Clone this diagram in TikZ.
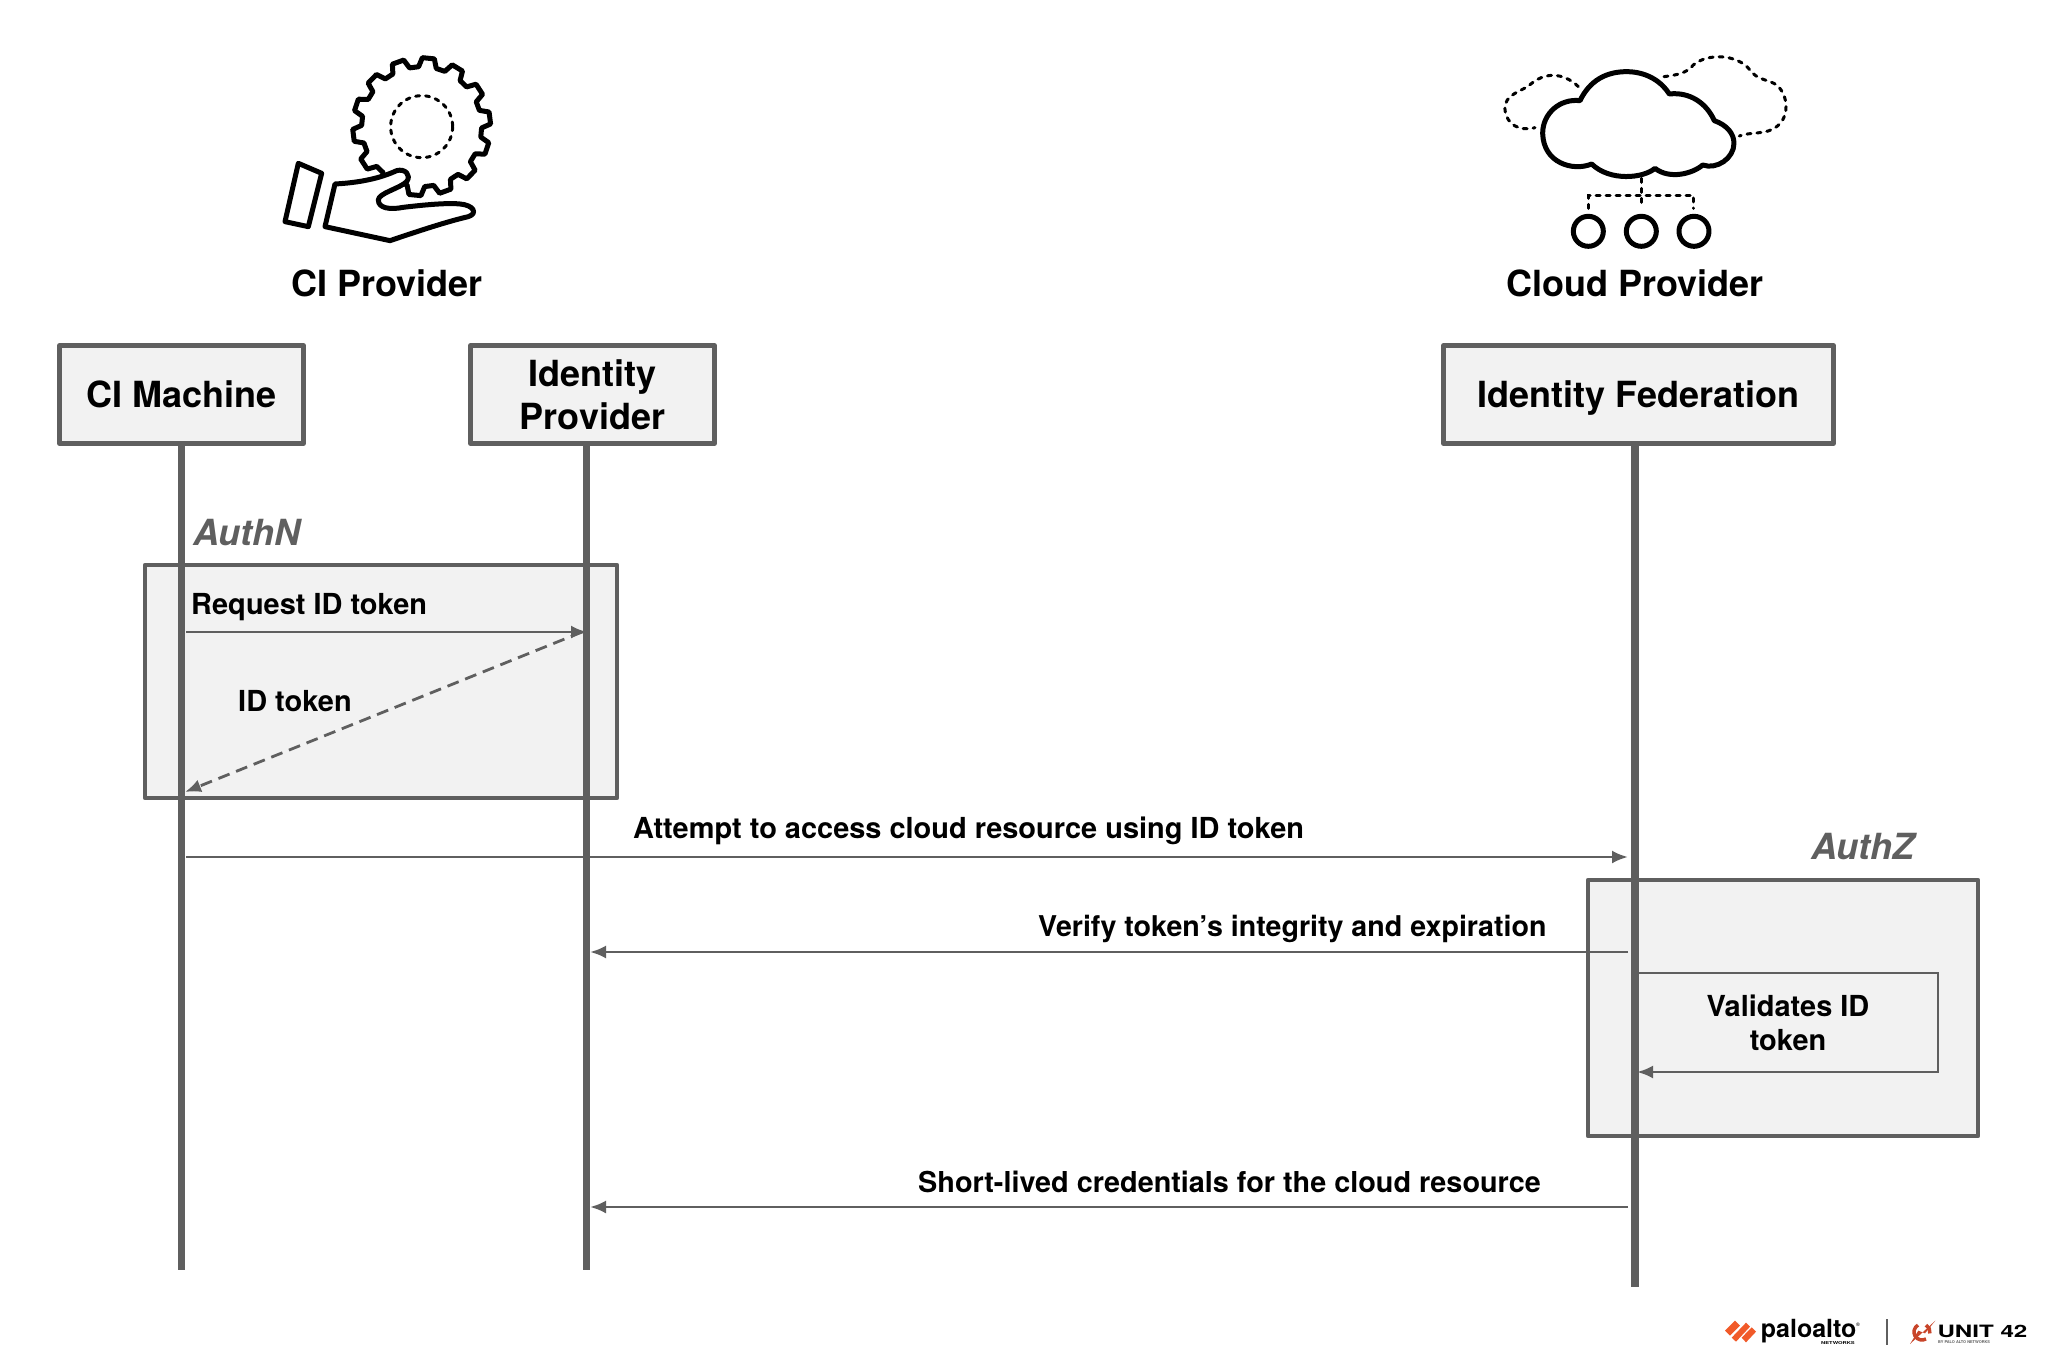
\documentclass[tikz,border=0pt]{standalone}
\usepackage{fontspec}
\setmainfont{TeX Gyre Heros}
\usetikzlibrary{arrows.meta}
\definecolor{linegray}{HTML}{5F5F5F}
\definecolor{boxfill}{HTML}{F2F2F2}
\definecolor{paloorange}{HTML}{F15A29}
\definecolor{unitred}{HTML}{C8452A}
\newcommand{\capcentered}[1]{\smash{\raisebox{-13pt}{#1}}}
\tikzset{
  actorbox/.style={draw=linegray,fill=boxfill,line width=4.8pt,line join=round,minimum height=98pt,align=center,font=\bfseries\fontsize{36}{43}\selectfont,inner sep=0pt},
  titlelabel/.style={font=\bfseries\fontsize{36}{40}\selectfont,text=black},
  msglabel/.style={font=\bfseries\fontsize{28.95}{34}\selectfont,text=black,inner sep=0pt,align=center},
  phaselabel/.style={font=\bfseries\itshape\fontsize{36}{40}\selectfont,text=linegray,inner sep=0pt},
  lifeline/.style={draw=linegray,line width=7.6pt},
  phasebox/.style={draw=linegray,fill=boxfill,line width=4.8pt,line join=round,inner sep=0pt},
  msgline/.style={draw=linegray,line width=2.8pt,-{Latex[length=16pt,width=13pt]}},
  dashline/.style={msgline,dash pattern=on 12pt off 7pt},
  iconline/.style={draw=black,fill=white,line width=5pt,line join=round},
  icondash/.style={draw=black,line width=3pt,dash pattern=on 4pt off 6pt,line cap=round},
}
\begin{document}
\begin{tikzpicture}[x=1pt,y=-1pt]
\useasboundingbox (0,0) rectangle (2048,1360);
\fill[white] (0,0) rectangle (2048,1360);

% phase boxes
\node[phasebox,minimum width=472pt,minimum height=233pt] (authn) at (381,681.5) {};
\node[phasebox,minimum width=390pt,minimum height=256pt] (authz) at (1783,1008) {};

% actors
\node[actorbox,minimum width=244pt] (ci) at (181.5,394.5) {\capcentered{CI Machine}};
\node[actorbox,minimum width=244pt] (idp) at (592.5,394.5) {Identity\\Provider};
\node[actorbox,minimum width=390pt] (fed) at (1638.5,394.5) {\capcentered{Identity Federation}};

% lifelines
\coordinate (ciend) at (181.5,1270);
\coordinate (idpstart) at (586.5,444); \coordinate (idpend) at (586.5,1270);
\coordinate (fedstart) at (1635,444); \coordinate (fedend) at (1635,1287);
\draw[lifeline] (ci.south) -- (ciend);
\draw[lifeline] (idpstart) -- (idpend);
\draw[lifeline] (fedstart) -- (fedend);

% message anchors
\coordinate (m1a) at (186,632); \coordinate (m1b) at (587,632);
\coordinate (m2a) at (582,632); \coordinate (m2b) at (185,792);
\coordinate (m3a) at (186,857); \coordinate (m3b) at (1628,857);
\coordinate (m4a) at (1628,952); \coordinate (m4b) at (590,952);
\coordinate (m5a) at (1628,1207); \coordinate (m5b) at (590,1207);
\coordinate (s1) at (1638,973); \coordinate (s2) at (1938,973);
\coordinate (s3) at (1938,1072); \coordinate (s4) at (1637,1072);

\draw[msgline] (m1a) -- (m1b);
\draw[dashline] (m2a) -- (m2b);
\draw[msgline] (m3a) -- (m3b);
\draw[msgline] (m4a) -- (m4b);
\draw[msgline] (m5a) -- (m5b);
\draw[msgline] (s1) -- (s2) -- (s3) -- (s4);

% labels
\node[phaselabel,anchor=west] (authnlab) at (193,533) {AuthN};
\node[phaselabel,anchor=west] (authzlab) at (1811,847) {AuthZ};
\node[msglabel,anchor=west] (l1) at (191,607) {Request ID token};
\node[msglabel,anchor=west] (l2) at (238,701) {ID token};
\node[msglabel,anchor=west] (l3) at (633,831) {Attempt to access cloud resource using ID token};
\node[msglabel,anchor=west,font=\bfseries\fontsize{28.6}{34}\selectfont] (l4) at (1038,929) {Verify token’s integrity and expiration};
\node[msglabel,anchor=west,font=\bfseries\fontsize{28.8}{34}\selectfont] (l5) at (918,1182) {Short-lived credentials for the cloud resource};
\node[msglabel] (l6) at (1788,1023) {Validates ID\\token};
\node[titlelabel] (t1) at (387,283) {CI Provider};
\node[titlelabel] (t2) at (1635,283) {Cloud Provider};

% gear and hand icon
\begin{scope}[shift={(260,30)},x=0.3333pt,y=-0.3333pt]
  \begin{scope}[shift={(485,290)}]
    \draw[iconline] (95.6-5:207)
      \foreach \i in {0,...,13} { -- (95.6+\i*25.714-5:207) -- (95.6+\i*25.714+5:207) -- (95.6+\i*25.714+8.5:180) -- (95.6+\i*25.714+17.2:180) } -- cycle;
    \draw[icondash] (0,0) circle (93);
  \end{scope}
  \draw[iconline] (225,462) .. controls (300,458) and (360,445) .. (410,422) .. controls (435,415) and (455,435) .. (440,455) .. controls (420,475) and (355,490) .. (355,510) .. controls (355,535) and (390,540) .. (430,532) .. controls (490,525) and (560,518) .. (600,522) .. controls (640,525) and (655,550) .. (625,560) .. controls (560,575) and (470,605) .. (390,632) -- (195,590) -- cycle;
  \draw[iconline] (115,400) -- (185,430) -- (145,590) -- (75,575) -- cycle;
\end{scope}

% cloud icon
\begin{scope}[shift={(1480,30)},x=0.3333pt,y=-0.3333pt]
  \draw[icondash] (295,170) .. controls (260,135) and (205,120) .. (155,160) .. controls (130,185) and (70,190) .. (75,240) .. controls (80,285) and (120,305) .. (165,293);
  \draw[icondash] (552,140) .. controls (590,135) and (620,130) .. (640,105) .. controls (680,70) and (770,70) .. (810,120) .. controls (830,150) and (870,150) .. (890,165) .. controls (925,195) and (930,260) .. (890,290) .. controls (860,315) and (810,305) .. (778,318);
  \draw[iconline] (300,212) .. controls (330,150) and (380,125) .. (440,125) .. controls (500,125) and (545,155) .. (568,192) .. controls (630,185) and (680,220) .. (703,272) .. controls (740,285) and (762,310) .. (762,340) .. controls (762,385) and (710,420) .. (668,405) .. controls (640,430) and (570,450) .. (525,415) .. controls (490,445) and (390,455) .. (335,402) .. controls (280,425) and (190,400) .. (188,310) .. controls (188,250) and (240,205) .. (300,212) -- cycle;
  \draw[icondash] (484,445) -- (484,535);
  \draw[icondash] (325,535) -- (325,498) -- (642,498) -- (642,535);
  \draw[iconline] (325,604) circle (45);
  \draw[iconline] (484,604) circle (45);
  \draw[iconline] (642,604) circle (45);
\end{scope}

% logos
\begin{scope}[shift={(1700,1290)},x=0.3333pt,y=-0.3333pt]
  \fill[paloorange] (75,122) -- (105,92) -- (120,107) -- (90,137) -- cycle;
  \fill[paloorange] (95,143) -- (138,98) -- (150,110) -- (108,155) -- cycle;
  \fill[paloorange] (125,143) -- (155,112) -- (168,125) -- (138,157) -- cycle;
  \node[anchor=west,inner sep=0pt,font=\bfseries\fontsize{25}{25}\selectfont] (pa) at (182,122) {paloalto};
  \node[anchor=west,inner sep=0pt,font=\fontsize{5}{5}\selectfont] (reg) at (468,105) {®};
  \node[anchor=east,inner sep=0pt,font=\bfseries\fontsize{4}{4}\selectfont] (net) at (465,158) {\scalebox{1.45}[1]{NETWORKS}};
  \fill[linegray] (558,88) rectangle (563,165);
  \draw[unitred,line width=3.5pt] (666,126) ++(60:24) arc[start angle=60,end angle=240,radius=24];
  \draw[unitred,line width=3.5pt] (666,126) ++(-60:24) arc[start angle=-60,end angle=10,radius=24];
  \fill[unitred] (706,92) -- (630,162) -- (655,122) -- (675,130) -- cycle;
  \node[anchor=west,inner sep=0pt,font=\bfseries\fontsize{17}{17}\selectfont] (u42) at (712,124) {\scalebox{1.42}[1]{UNIT 42}};
  \node[anchor=west,inner sep=0pt,text=linegray,font=\bfseries\fontsize{3.9}{4}\selectfont] (by) at (714,156) {BY PALO ALTO NETWORKS};
\end{scope}
\end{tikzpicture}
\end{document}
